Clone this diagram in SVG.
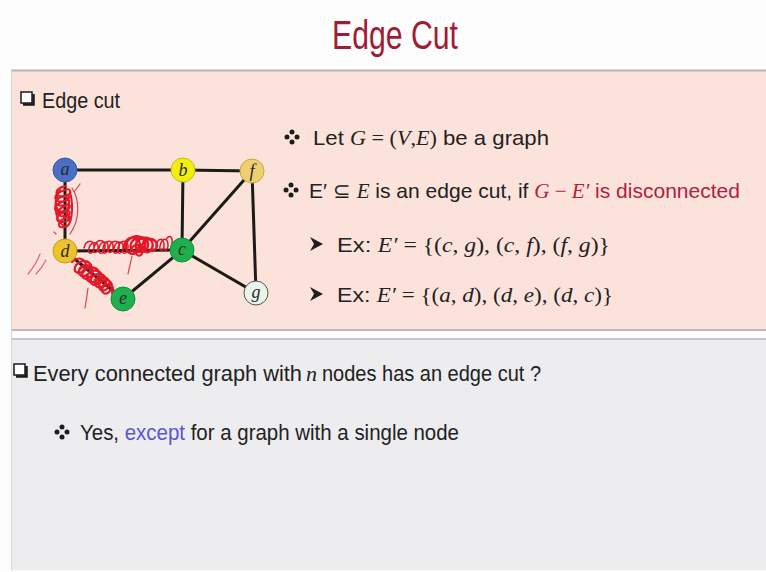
<svg xmlns="http://www.w3.org/2000/svg" width="766" height="572" viewBox="0 0 766 572">
<defs>
<style>
.t{font-family:"Liberation Sans Narrow","Liberation Sans",Arial,sans-serif;fill:#222}
.m{font-family:"Liberation Serif","Times New Roman",serif;font-style:italic}
.s{font-family:"Liberation Serif","Times New Roman",serif}
.red{fill:#b3203c}
.blue{fill:#5b55d6}
.dot{fill:#1e1e1e}
.arr{fill:#1e1e1e}
.edge{stroke:#1e1a18;stroke-width:3;stroke-linecap:round}
.node{stroke-width:1}
.lab{font-family:"Liberation Serif","Times New Roman",serif;font-style:italic;font-size:18px;fill:#2a2a2a;text-anchor:middle}
.scr{fill:none;stroke:#e01828;stroke-width:2;stroke-linecap:round;stroke-linejoin:round}
.thin{fill:none;stroke:#e2404e;stroke-width:1.2;stroke-linecap:round}
.box{fill:#fff;stroke:#1a1a1a;stroke-width:1.5}
</style>
<g id="bullet"><circle cx="0" cy="-5" r="2.5" class="dot"/><circle cx="-5" cy="0" r="2.5" class="dot"/><circle cx="5" cy="0" r="2.5" class="dot"/><circle cx="0" cy="5" r="2.5" class="dot"/></g>
<path id="arrow" d="M-6,-7 L7,0 L-6,7 L-2,0 Z" class="arr"/>
</defs>
<rect x="0" y="0" width="766" height="572" fill="#fdfdfd"/>
<!-- title -->
<text x="395" y="49" class="t" font-size="40" text-anchor="middle" textLength="126" lengthAdjust="spacingAndGlyphs" style="fill:#a01c34">Edge Cut</text>
<!-- panels -->
<rect x="11" y="70" width="755" height="260" fill="#fbe3dc"/>
<line x1="11" y1="70.5" x2="766" y2="70.5" stroke="#b8b4b2" stroke-width="2"/>
<line x1="11" y1="330" x2="766" y2="330" stroke="#c4b8b6" stroke-width="2"/>
<rect x="11" y="339" width="755" height="231" fill="#ededf0"/>
<line x1="11" y1="339" x2="766" y2="339" stroke="#c6c6cc" stroke-width="2"/>
<line x1="11.5" y1="70" x2="11.5" y2="570" stroke="#d8d4d4" stroke-width="1"/>

<!-- Edge cut heading -->
<rect x="21" y="92" width="11" height="11" class="box"/>
<path d="M23,104.5 H33.5 V94" fill="none" stroke="#1a1a1a" stroke-width="2.5"/>
<text x="42" y="108" class="t" font-size="22" textLength="78" lengthAdjust="spacingAndGlyphs">Edge cut</text>

<!-- connectors -->
<g id="edges">
<line class="edge" x1="65" y1="170" x2="183" y2="170"/>
<line class="edge" x1="183" y1="170" x2="252" y2="171"/>
<line class="edge" x1="65" y1="170" x2="65" y2="251"/>
<line class="edge" x1="65" y1="251" x2="182" y2="250"/>
<line class="edge" x1="65" y1="251" x2="123" y2="299"/>
<line class="edge" x1="123" y1="299" x2="182" y2="250"/>
<line class="edge" x1="183" y1="170" x2="182" y2="250"/>
<line class="edge" x1="182" y1="250" x2="252" y2="171"/>
<line class="edge" x1="182" y1="250" x2="256" y2="293"/>
<line class="edge" x1="252" y1="171" x2="256" y2="293"/>
</g>

<!-- red scribbles -->
<g id="scribbles">
<path class="scr" d="M66,186 c-12,2 -13,12 -1,10 c8,-2 6,-9 0,-6 c-14,4 -12,14 0,11 c7,-2 4,-8 -1,-5 c-12,3 -10,12 2,9 c6,-2 3,-8 -2,-4 c-13,5 -11,14 1,10 c8,-3 5,-9 0,-5 c-10,4 -9,12 1,10 c6,-2 4,-7 -1,-4 c-12,4 -10,13 2,9 c5,-2 3,-8 -2,-3 c-10,5 -7,12 2,8"/>
<path class="scr" d="M60,190 c-7,10 -6,30 4,36 c8,4 10,-20 6,-34 M57,200 c4,-6 13,-4 12,4 c0,8 -11,10 -12,4 M58,214 c5,-5 12,-2 10,5"/>
<path class="thin" d="M72,188 c8,12 8,32 -2,46 M74,192 l6,-8 M54,232 l2,2"/>
<path class="scr" style="stroke-width:1.5" d="M84,248 c2,-9 11,-9 10,0 -1,7 -7,7 -5,0 2,-7 10,-7 9,0 -1,6 -6,6 -4,0 2,-10 12,-10 11,0 -1,7 -8,7 -6,0 2,-8 10,-8 9,0 -1,7 -7,7 -5,0 2,-9 11,-9 10,0 -1,6 -6,6 -4,0 2,-9 12,-9 10,0 -1,7 -7,7 -5,0 2,-8 10,-8 9,0 -1,7 -7,7 -5,0 2,-9 11,-9 10,0 -1,7 -7,7 -5,0"/>
<path class="scr" style="stroke-width:2.4" d="M124,248 c0,-12 14,-14 16,-4 c2,10 -12,14 -14,4 c-1,-10 12,-16 18,-8 c5,8 -6,16 -12,10 c-5,-6 4,-16 12,-12 c7,4 4,14 -3,14 c-7,0 -8,-12 2,-14 c8,-2 12,6 8,12 c-3,4 -10,2 -9,-4 c1,-6 10,-10 14,-4 c3,6 -2,10 -6,8"/>
<path class="scr" d="M130,252 c2,-8 10,-10 12,-2 c2,6 -6,8 -6,2 c0,-6 8,-8 10,-2 M136,240 c4,-4 10,-2 8,4"/>
<path class="scr" style="stroke-width:1.5" d="M156,246 c2,-9 8,-9 8,0 -1,6 -5,6 -4,0 2,-9 8,-9 8,0 -1,6 -5,6 -4,0 M166,240 c3,-6 7,-4 6,4"/>
<path class="thin" d="M132,256 c-1,6 -3,12 -4,18"/>
<path class="scr" style="stroke-width:2.2" d="M72,262 c8,-8 18,0 12,8 -5,6 -12,2 -8,-5 9,-9 20,-1 13,8 -5,6 -13,3 -9,-5 7,-7 17,0 11,8 -6,6 -12,1 -7,-5 9,-9 20,0 13,9 -5,5 -13,1 -9,-6 8,-8 19,0 12,8 -5,6 -12,2 -8,-5 9,-8 18,1 12,8 -5,5 -12,1 -7,-5 7,-7 16,0 11,8 -5,5 -11,2 -8,-5 8,-7 16,1 10,8 -4,5 -10,2 -7,-4 6,-6 13,0 9,6"/>
<path class="scr" style="stroke-width:1.6" d="M78,272 c6,-10 20,-6 22,4 c2,10 -12,8 -12,0 M94,280 c6,-6 14,0 12,6"/>
<path class="thin" d="M88,288 c-1,8 -2,14 -3,20"/>
<path class="thin" style="stroke:#e2607a" d="M40,254 c-3,8 -7,14 -12,20 M46,260 c-3,6 -6,10 -10,14"/>
</g>

<!-- nodes -->
<g id="node-a"><circle cx="65" cy="170" r="12" fill="#4a6fc4" stroke="#3a5aa8" class="node"/><text x="65" y="175" class="lab">a</text></g>
<g id="node-b"><circle cx="183" cy="170" r="12" fill="#f2ee10" stroke="#c8c000" class="node"/><text x="183" y="176" class="lab">b</text></g>
<g id="node-f"><circle cx="252" cy="171" r="12" fill="#eed070" stroke="#c8a840" class="node"/><text x="252" y="177" class="lab">f</text></g>
<g id="node-d"><circle cx="65" cy="251" r="12" fill="#eec22a" stroke="#c89a10" class="node"/><text x="65" y="257" class="lab">d</text></g>
<g id="node-c"><circle cx="182" cy="250" r="12" fill="#1eb04e" stroke="#14903c" class="node"/><text x="182" y="255" class="lab">c</text></g>
<g id="node-e"><circle cx="123" cy="299" r="12" fill="#1eb04e" stroke="#14903c" class="node"/><text x="123" y="304" class="lab">e</text></g>
<g id="node-g"><circle cx="256" cy="293" r="12" fill="#eaf4ea" stroke="#4a5a4a" class="node"/><text x="256" y="298" class="lab">g</text></g>

<!-- right text -->
<g id="defs-text">
<use href="#bullet" x="292" y="137"/>
<text x="313" y="145" class="t" font-size="21" textLength="236" lengthAdjust="spacingAndGlyphs">Let <tspan class="m">G</tspan><tspan class="s"> = (</tspan><tspan class="m">V</tspan><tspan class="s">,</tspan><tspan class="m">E</tspan><tspan class="s">)</tspan> be a graph</text>
<use href="#bullet" x="291" y="190"/>
<text x="309" y="198" class="t" font-size="21" textLength="431" lengthAdjust="spacingAndGlyphs">E′ <tspan class="s">⊆</tspan> <tspan class="m">E</tspan> is an edge cut, if <tspan class="m red">G</tspan><tspan class="s red"> − </tspan><tspan class="m red">E′</tspan><tspan class="red"> is disconnected</tspan></text>
<use href="#arrow" x="316" y="244"/>
<text x="337" y="252" class="t" font-size="21" textLength="273" lengthAdjust="spacingAndGlyphs">Ex: <tspan class="m">E′</tspan><tspan class="s"> = {(</tspan><tspan class="m">c</tspan><tspan class="s">, </tspan><tspan class="m">g</tspan><tspan class="s">), (</tspan><tspan class="m">c</tspan><tspan class="s">, </tspan><tspan class="m">f</tspan><tspan class="s">), (</tspan><tspan class="m">f</tspan><tspan class="s">, </tspan><tspan class="m">g</tspan><tspan class="s">)}</tspan></text>
<use href="#arrow" x="316" y="294"/>
<text x="337" y="302" class="t" font-size="21" textLength="276" lengthAdjust="spacingAndGlyphs">Ex: <tspan class="m">E′</tspan><tspan class="s"> = {(</tspan><tspan class="m">a</tspan><tspan class="s">, </tspan><tspan class="m">d</tspan><tspan class="s">), (</tspan><tspan class="m">d</tspan><tspan class="s">, </tspan><tspan class="m">e</tspan><tspan class="s">), (</tspan><tspan class="m">d</tspan><tspan class="s">, </tspan><tspan class="m">c</tspan><tspan class="s">)}</tspan></text>
</g>

<!-- lower panel text -->
<g id="question">
<rect x="14" y="364" width="11" height="11" class="box"/>
<path d="M16,376.5 H26.5 V366" fill="none" stroke="#1a1a1a" stroke-width="2.5"/>
<text x="33" y="381" class="t" font-size="22" textLength="269" lengthAdjust="spacingAndGlyphs">Every connected graph with</text>
<text x="306" y="381" class="m" font-size="22" fill="#222">n</text>
<text x="322" y="381" class="t" font-size="22" textLength="219" lengthAdjust="spacingAndGlyphs">nodes has an edge cut ?</text>
<use href="#bullet" x="62" y="432"/>
<text x="80" y="440" class="t" font-size="22" textLength="379" lengthAdjust="spacingAndGlyphs">Yes, <tspan class="blue">except</tspan> for a graph with a single node</text>
</g>
</svg>
